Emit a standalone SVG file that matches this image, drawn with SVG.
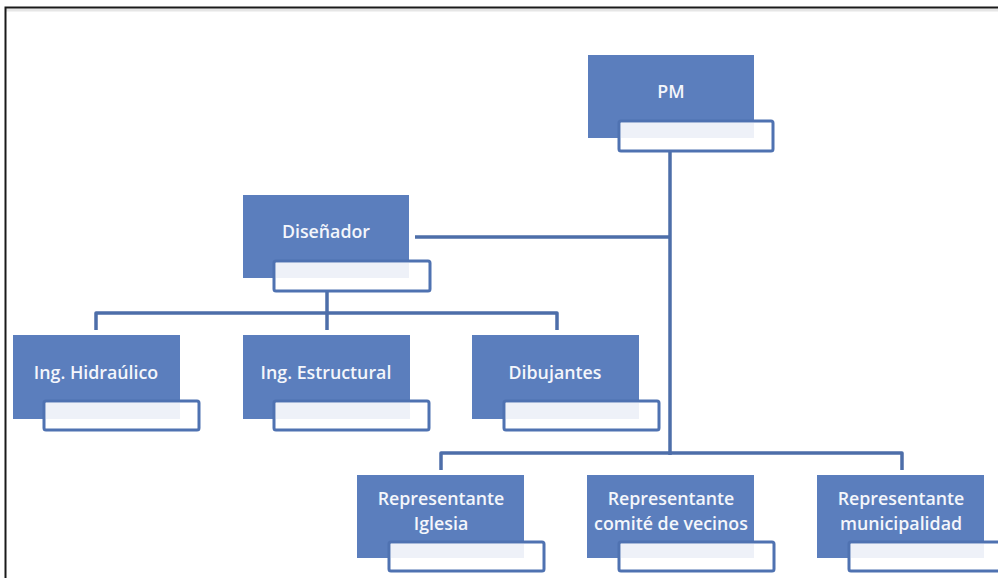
<svg xmlns="http://www.w3.org/2000/svg" width="998" height="578" viewBox="0 0 998 578">
<defs>
<style>
.blue{fill:#5b7ebd}
.sub{fill:#ffffff;stroke:#4f72b1;stroke-width:3}
.tint{fill:#eef1f8}
.lbl{font-family:"Open Sans","Liberation Sans",sans-serif;font-size:17.8px;font-weight:600;fill:#f4f6fb;text-anchor:middle}
.conn{fill:none;stroke:#4d6ea9;stroke-width:3.5;stroke-linejoin:round}
</style>
</defs>
<rect x="0" y="0" width="998" height="578" fill="#ffffff"/>
<line x1="5" y1="10" x2="998" y2="10" stroke="#e6e6e6" stroke-width="3"/>
<path d="M5.5,578 V7.5 H998" fill="none" stroke="#1a1a1a" stroke-width="2"/>
<g id="connectors">
<path class="conn" d="M670,152 V455"/>
<path class="conn" d="M415,237 H670"/>
<path class="conn" d="M327,292 V330"/>
<path class="conn" d="M96,330 V313 H557 V330"/>
<path class="conn" d="M441,470 V453 H902 V470"/>
</g>
<g id="pm">
<rect class="blue" x="588" y="55" width="166" height="83"/>
<rect class="sub" x="619" y="121" width="154" height="30" rx="2"/>
<rect class="tint" x="621" y="123" width="133" height="15"/>
<text class="lbl" x="671" y="98">PM</text>
</g>
<g id="disenador">
<rect class="blue" x="243" y="195" width="166" height="83"/>
<rect class="sub" x="274" y="261" width="156" height="30" rx="2"/>
<rect class="tint" x="276" y="263" width="133" height="15"/>
<text class="lbl" x="326" y="238">Diseñador</text>
</g>
<g id="ing-hidraulico">
<rect class="blue" x="13" y="335" width="167" height="84"/>
<rect class="sub" x="44" y="401" width="155" height="29" rx="2"/>
<rect class="tint" x="46" y="403" width="134" height="16"/>
<text class="lbl" x="96" y="379">Ing. Hidraúlico</text>
</g>
<g id="ing-estructural">
<rect class="blue" x="243" y="335" width="167" height="84"/>
<rect class="sub" x="274" y="401" width="155" height="29" rx="2"/>
<rect class="tint" x="276" y="403" width="134" height="16"/>
<text class="lbl" x="326" y="379">Ing. Estructural</text>
</g>
<g id="dibujantes">
<rect class="blue" x="472" y="335" width="167" height="84"/>
<rect class="sub" x="504" y="401" width="155" height="29" rx="2"/>
<rect class="tint" x="506" y="403" width="133" height="16"/>
<text class="lbl" x="555" y="379">Dibujantes</text>
</g>
<g id="rep-iglesia">
<rect class="blue" x="357" y="475" width="167" height="83"/>
<rect class="sub" x="389" y="542" width="155" height="29" rx="2"/>
<rect class="tint" x="391" y="544" width="133" height="14"/>
<text class="lbl" x="441" y="505">Representante</text>
<text class="lbl" x="441" y="530">Iglesia</text>
</g>
<g id="rep-comite">
<rect class="blue" x="587" y="475" width="167" height="83"/>
<rect class="sub" x="619" y="542" width="155" height="29" rx="2"/>
<rect class="tint" x="621" y="544" width="133" height="14"/>
<text class="lbl" x="671" y="505">Representante</text>
<text class="lbl" x="671" y="530">comité de vecinos</text>
</g>
<g id="rep-municipalidad">
<rect class="blue" x="817" y="475" width="167" height="83"/>
<rect class="sub" x="849" y="542" width="155" height="29" rx="2"/>
<rect class="tint" x="851" y="544" width="133" height="14"/>
<text class="lbl" x="901" y="505">Representante</text>
<text class="lbl" x="901" y="530">municipalidad</text>
</g>
</svg>
